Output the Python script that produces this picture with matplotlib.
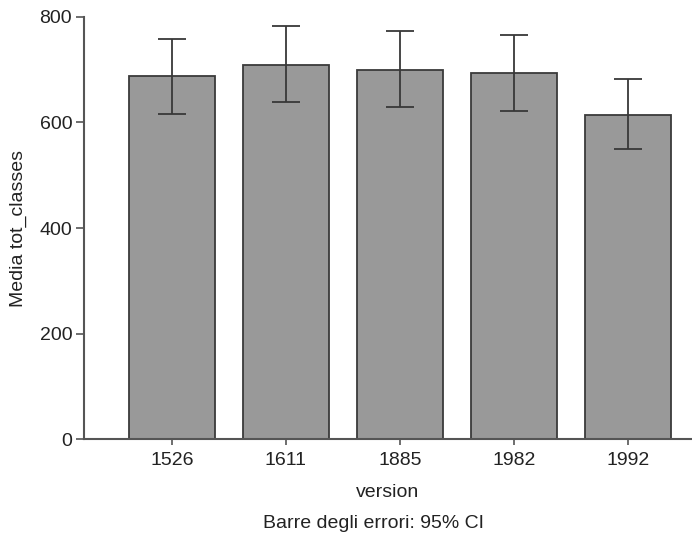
import matplotlib
matplotlib.use("Agg")
import matplotlib.pyplot as plt

versions = ["1526", "1611", "1885", "1982", "1992"]
media = [687, 708, 700, 694, 614]
ci_low = [616, 638, 630, 621, 549]
ci_high = [758, 782, 773, 766, 682]

plt.rcParams['font.family'] = ['Liberation Sans', 'DejaVu Sans']

fig = plt.figure(figsize=(6.92, 5.39), dpi=100)
ax = fig.add_axes([0.1214, 0.1848, 0.8786, 0.7842])

x = list(range(len(versions)))
err = [[m - lo for m, lo in zip(media, ci_low)],
       [hi - m for m, hi in zip(media, ci_high)]]

ax.bar(x, media, width=0.755, color='#999999', edgecolor='#3a3a3a', linewidth=1.3, zorder=2)
ax.errorbar(x, media, yerr=err, fmt='none', ecolor='#383838', elinewidth=1.3,
            capsize=10.4, capthick=1.3, zorder=3)

ax.set_xlim(-0.77, 4.56)
ax.set_ylim(0, 800)
ax.set_yticks([0, 200, 400, 600, 800])
ax.set_xticks(x)
ax.set_xticklabels(versions)

for s in ['top', 'right']:
    ax.spines[s].set_visible(False)
for s in ['left', 'bottom']:
    ax.spines[s].set_color('#555555')
    ax.spines[s].set_linewidth(1.5)

ax.tick_params(axis='y', length=5.5, width=1.2, color='#555555', pad=3,
               labelsize=14, labelcolor='#222222')
ax.tick_params(axis='x', length=4, width=1.2, color='#555555', pad=5,
               labelsize=14, labelcolor='#222222')

ax.set_xlabel('version', fontsize=14, color='#222222', labelpad=11)
ax.set_ylabel('Media tot_classes', fontsize=14, color='#222222', labelpad=9)

fig.text(0.54, 1 - 524 / 539, 'Barre degli errori: 95% CI', fontsize=14,
         color='#222222', ha='center', va='center')

fig.savefig('out.png', dpi=100)
